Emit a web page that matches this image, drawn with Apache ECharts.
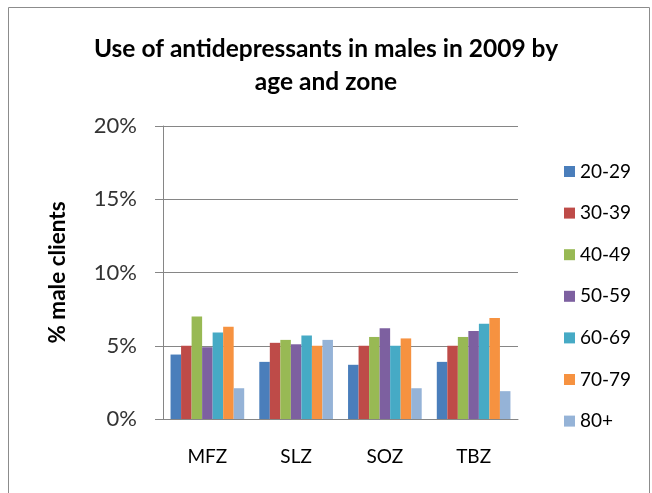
<!DOCTYPE html>
<html>
<head>
<meta charset="utf-8">
<script src="https://cdn.jsdelivr.net/npm/echarts@6/dist/echarts.min.js"></script>
<style>
  html, body { margin: 0; padding: 0; background: #ffffff; }
  #chart { width: 652px; height: 493px; }
</style>
</head>
<body>
<div id="chart"></div>
<script>
// Zones along the x axis
const zones = ['MFZ', 'SLZ', 'SOZ', 'TBZ'];

// Age bands, one bar series each
const ageBands = ['20-29', '30-39', '40-49', '50-59', '60-69', '70-79', '80+'];

// Share of male clients on antidepressants (%), per zone
const age20to29 = [4.4, 3.9, 3.7, 3.9];
const age30to39 = [5.0, 5.2, 5.0, 5.0];
const age40to49 = [7.0, 5.4, 5.6, 5.6];
const age50to59 = [4.9, 5.1, 6.2, 6.0];
const age60to69 = [5.9, 5.7, 5.0, 6.5];
const age70to79 = [6.3, 5.0, 5.5, 6.9];
const age80plus = [2.1, 5.4, 2.1, 1.9];

const yTicks = [0, 5, 10, 15, 20];

const seriesValues = [age20to29, age30to39, age40to49, age50to59, age60to69, age70to79, age80plus];
const palette = ['#4A7EBB', '#BE4B48', '#98B954', '#7D60A0', '#46AAC5', '#F69240', '#95B3D7'];

const FONT = 'Lato';

const chart = echarts.init(document.getElementById('chart'), null, { renderer: 'canvas' });

chart.setOption({
  animation: false,
  backgroundColor: '#ffffff',
  color: palette,
  textStyle: { fontFamily: FONT },
  title: {
    text: 'Use of antidepressants in males in 2009 by\nage and zone',
    left: 'center',
    top: 28,
    textStyle: {
      fontFamily: FONT,
      fontSize: 24.5,
      fontWeight: 'bold',
      color: '#000000',
      lineHeight: 33
    }
  },
  graphic: [{
    type: 'rect',
    shape: { x: 8.5, y: 7.5, width: 641, height: 520 },
    style: { fill: 'none', stroke: '#8c8c8c', lineWidth: 1 },
    silent: true,
    z: 10
  }],
  legend: {
    orient: 'vertical',
    left: 559,
    top: 157,
    itemWidth: 11,
    itemHeight: 11,
    itemGap: 22.6,
    icon: 'rect',
    textStyle: { fontFamily: FONT, fontSize: 19, color: '#000000' },
    data: ageBands
  },
  grid: {
    left: 163,
    right: 134,
    top: 126,
    bottom: 74,
    containLabel: false
  },
  xAxis: {
    type: 'category',
    data: zones,
    axisLine: { show: true, lineStyle: { color: '#868686', width: 1 } },
    axisTick: { show: false },
    axisLabel: { margin: 28, fontFamily: FONT, fontSize: 19, color: '#000000' },
    splitLine: { show: false }
  },
  yAxis: {
    type: 'value',
    min: yTicks[0],
    max: yTicks[yTicks.length - 1],
    interval: yTicks[1] - yTicks[0],
    name: '% male clients',
    nameLocation: 'middle',
    nameGap: 94,
    nameRotate: 90,
    nameTextStyle: { fontFamily: FONT, fontSize: 22.5, fontWeight: 'bold', color: '#000000' },
    axisLine: { show: true, lineStyle: { color: '#868686', width: 1 } },
    axisTick: { show: true, inside: false, length: 8, lineStyle: { color: '#868686' } },
    axisLabel: {
      margin: 26,
      fontFamily: FONT,
      fontSize: 22,
      color: '#333333',
      formatter: v => v + '%'
    },
    splitLine: { show: true, lineStyle: { color: '#868686', width: 1 } }
  },
  series: seriesValues.map((vals, i) => ({
    name: ageBands[i],
    type: 'bar',
    data: vals,
    barGap: '0%',
    barCategoryGap: '17%',
    itemStyle: { color: palette[i] }
  }))
});
</script>
</body>
</html>
